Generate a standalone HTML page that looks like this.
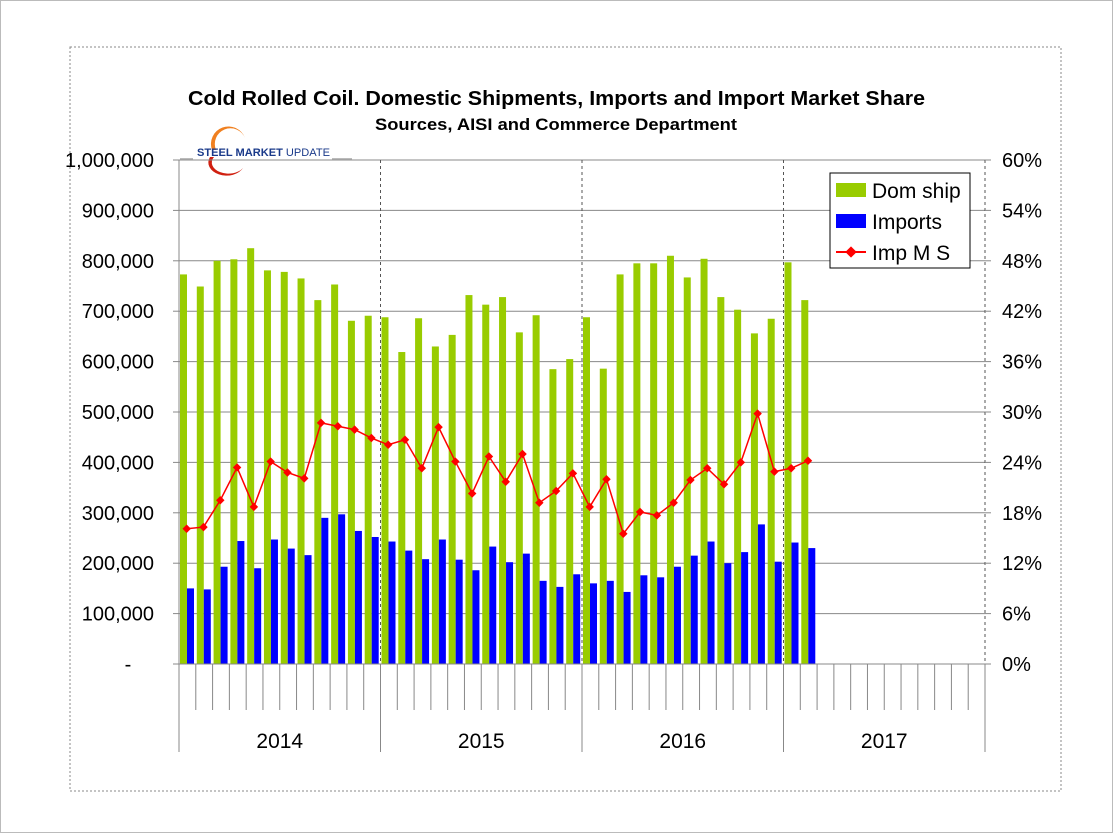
<!DOCTYPE html>
<html><head><meta charset="utf-8"><style>
body{margin:0;background:#fff;}
svg text{font-family:"Liberation Sans",Arial,sans-serif;}
</style></head><body>
<svg width="1113" height="833" xmlns="http://www.w3.org/2000/svg">
<rect x="0.5" y="0.5" width="1112" height="832" fill="#fff" stroke="#bbb"/>
<rect x="70" y="47" width="991" height="744" fill="none" stroke="#888" stroke-dasharray="2,2"/>
<text x="188" y="105" textLength="737" lengthAdjust="spacingAndGlyphs" font-size="20" font-weight="bold">Cold Rolled Coil. Domestic Shipments, Imports and Import Market Share</text>
<text x="375" y="130" textLength="362" lengthAdjust="spacingAndGlyphs" font-size="17" font-weight="bold">Sources, AISI and Commerce Department</text>
<g>
<line x1="180" y1="159" x2="193" y2="159" stroke="#bbb" stroke-width="2"/>
<line x1="332" y1="159" x2="352" y2="159" stroke="#bbb" stroke-width="2"/>
<path d="M212,150 A16,16 0 0,1 245,138 A14,14 0 0,0 216,150 Z" fill="#f08020"/>
<path d="M210,157 A18,13 0 0,0 243,168 A15,10 0 0,1 214,157 Z" fill="#d02010"/>
<text x="197" y="156" textLength="133" lengthAdjust="spacingAndGlyphs" font-size="11" font-weight="bold" fill="#1a3a8a">STEEL MARKET <tspan font-weight="normal">UPDATE</tspan></text>
</g>
<g id="grid"></g>
<g id="bars"></g>
<g id="line"></g>
<g id="axes"></g>
<g>
<rect x="830" y="173" width="140" height="95" fill="#fff" stroke="#000"/>
<rect x="836" y="183" width="30" height="14" fill="#99cc00"/>
<text x="872" y="198" font-size="21">Dom ship</text>
<rect x="836" y="214" width="30" height="14" fill="#0000ff"/>
<text x="872" y="229" font-size="21">Imports</text>
<line x1="836" y1="252" x2="866" y2="252" stroke="#ff0000" stroke-width="2"/>
<rect x="847" y="248" width="8" height="8" fill="#ff0000" transform="rotate(45 851 252)"/>
<text x="872" y="260" font-size="21">Imp M S</text>
</g>
</svg>
<script>
const years=["2014","2015","2016","2017"];
const domShip=[773,749,800,803,825,781,778,765,722,753,681,691,688,619,686,630,653,732,713,728,658,692,585,605,688,586,773,795,795,810,767,804,728,703,656,685,797,722];
const imports=[150,148,193,244,190,247,229,216,290,297,264,252,243,225,208,247,207,186,233,202,219,165,153,178,160,165,143,176,172,193,215,243,200,222,277,203,241,230];
const impShare=[16.1,16.3,19.5,23.4,18.7,24.1,22.8,22.1,28.7,28.3,27.9,26.9,26.1,26.7,23.3,28.2,24.1,20.3,24.7,21.7,25.0,19.2,20.6,22.7,18.7,22.0,15.5,18.1,17.7,19.2,21.9,23.3,21.4,24.0,29.8,22.9,23.3,24.2];
const leftTicks=["-","100,000","200,000","300,000","400,000","500,000","600,000","700,000","800,000","900,000","1,000,000"];
const rightTicks=["0%","6%","12%","18%","24%","30%","36%","42%","48%","54%","60%"];
const NS="http://www.w3.org/2000/svg";
const X0=179,X1=985,Y0=664,Y1=160,NM=48,MW=(X1-X0)/NM;
const yL=v=>Y0-(v*1000)/1000000*(Y0-Y1);
const yR=p=>Y0-p/60*(Y0-Y1);
const xM=i=>X0+i*MW;
function mk(tag,attrs,parent){const e=document.createElementNS(NS,tag);for(const k in attrs)e.setAttribute(k,attrs[k]);document.getElementById(parent).appendChild(e);return e;}
for(let i=1;i<leftTicks.length;i++){const y=Y0-i*(Y0-Y1)/10;
const g=mk('line',{x1:X0,x2:X1,y1:y,y2:y,stroke:'#888','stroke-width':1},'grid');

}
for(let k=1;k<4;k++){const x=X0+k*12*MW;
const l=mk('line',{x1:x,x2:x,y1:Y1,y2:Y0,stroke:'#555','stroke-dasharray':'3,3'},'grid');

}
mk('line',{x1:X1,x2:X1,y1:Y1,y2:Y0,stroke:'#555','stroke-dasharray':'3,3'},'grid');
domShip.forEach((v,i)=>{const b=mk('rect',{x:xM(i)+1,y:yL(v),width:7,height:Y0-yL(v),fill:'#99cc00'},'bars');

});
imports.forEach((v,i)=>{const b=mk('rect',{x:xM(i)+8,y:yL(v),width:7,height:Y0-yL(v),fill:'#0000ff'},'bars');

});
const pts=impShare.map((p,i)=>[xM(i)+7.7,yR(p)]);
const pl=mk('polyline',{points:pts.map(p=>p.join(',')).join(' '),fill:'none',stroke:'#ff0000','stroke-width':1.5},'line');


pts.forEach(p=>{const m=mk('rect',{x:p[0]-3,y:p[1]-3,width:6,height:6,fill:'#ff0000',transform:`rotate(45 ${p[0]} ${p[1]})`},'line');

});
mk('line',{x1:X0,x2:X0,y1:Y1,y2:752,stroke:'#888'},'axes');
mk('line',{x1:X0,x2:X1,y1:Y0,y2:Y0,stroke:'#888'},'axes');
for(let i=1;i<NM;i++){const x=xM(i);const yr=i%12==0;
mk('line',{x1:x,x2:x,y1:Y0,y2:yr?752:710,stroke:'#888'},'axes');}
mk('line',{x1:X1,x2:X1,y1:Y0,y2:752,stroke:'#888'},'axes');
leftTicks.forEach((t,i)=>{const y=Y0-i*(Y0-Y1)/10;
const e=mk('text',{x:i==0?128:154,y:y+7,'text-anchor':i==0?'middle':'end','font-size':20},'axes');e.textContent=t;


mk('line',{x1:X0-6,x2:X0,y1:y,y2:y,stroke:'#888'},'axes');});
rightTicks.forEach((t,i)=>{const y=Y0-i*(Y0-Y1)/10;
const e=mk('text',{x:1002,y:y+7,'font-size':20},'axes');e.textContent=t;


mk('line',{x1:X1,x2:X1+6,y1:y,y2:y,stroke:'#888'},'axes');});
years.forEach((t,k)=>{const e=mk('text',{x:X0+(k+0.5)*12*MW,y:748,'text-anchor':'middle','font-size':21},'axes');e.textContent=t;

});
</script>
</body></html>
